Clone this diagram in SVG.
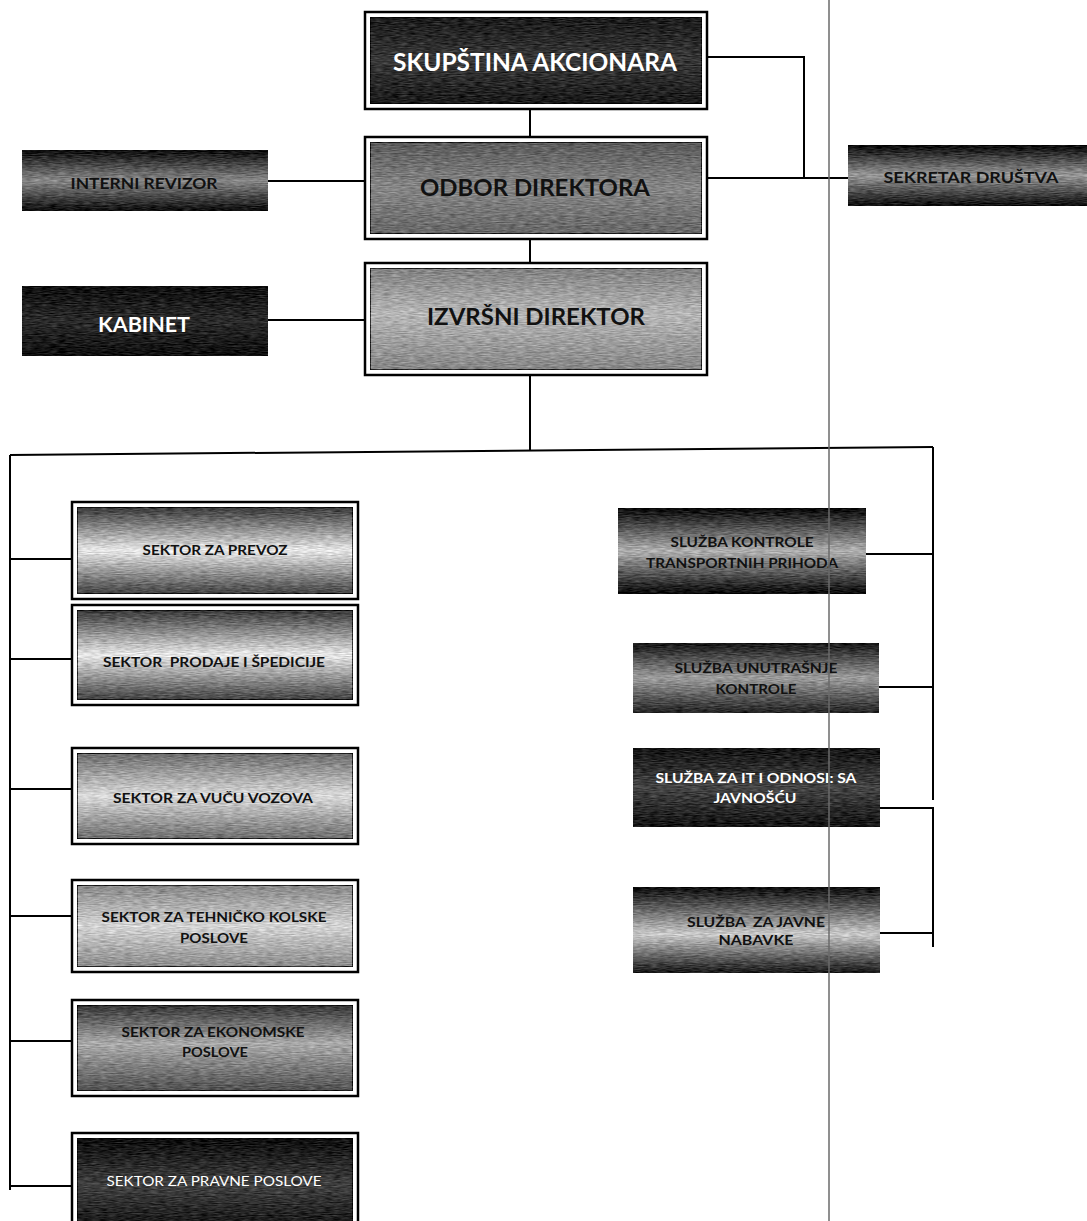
<svg xmlns="http://www.w3.org/2000/svg" width="1087" height="1221" viewBox="0 0 1087 1221">
<style>
.t{font-family:Lato,"Open Sans","Liberation Sans",sans-serif;font-weight:bold;text-anchor:middle}
.d{fill:#111}
.w{fill:#fff}
.r{font-weight:normal}
.ob{fill:#fff;stroke:#000;stroke-width:2.5}
.ib{stroke:#000;stroke-width:1.5}
.c{fill:none;stroke:#000;stroke-width:2}
.g{filter:url(#grain)}
</style>
<defs>
<filter id="grain" x="0" y="0" width="100%" height="100%" color-interpolation-filters="sRGB">
<feTurbulence type="fractalNoise" baseFrequency="0.12 0.9" numOctaves="2" seed="4" result="n"/>
<feColorMatrix in="n" type="matrix" values="1 0 0 0 0  1 0 0 0 0  1 0 0 0 0  0 0 0 0 1" result="nc"/>
<feComposite in="SourceGraphic" in2="nc" operator="arithmetic" k1="0" k2="1" k3="0.36" k4="-0.18" result="m"/>
<feComposite in="m" in2="SourceAlpha" operator="in"/>
</filter>
<linearGradient id="gSkup" x1="0" y1="0" x2="0" y2="1"><stop offset="0" stop-color="#1a1a1a"/><stop offset="0.5" stop-color="#383838"/><stop offset="1" stop-color="#181818"/></linearGradient>
<linearGradient id="gOdbor" x1="0" y1="0" x2="0" y2="1"><stop offset="0" stop-color="#5a5a5a"/><stop offset="0.5" stop-color="#868686"/><stop offset="1" stop-color="#666"/></linearGradient>
<linearGradient id="gIzvr" x1="0" y1="0" x2="0" y2="1"><stop offset="0" stop-color="#808080"/><stop offset="0.45" stop-color="#b6b6b6"/><stop offset="1" stop-color="#858585"/></linearGradient>
<linearGradient id="gInt" x1="0" y1="0" x2="0" y2="1"><stop offset="0" stop-color="#0a0a0a"/><stop offset="0.5" stop-color="#888"/><stop offset="1" stop-color="#0c0c0c"/></linearGradient>
<linearGradient id="gKab" x1="0" y1="0" x2="0" y2="1"><stop offset="0" stop-color="#0e0e0e"/><stop offset="0.5" stop-color="#2a2a2a"/><stop offset="1" stop-color="#0e0e0e"/></linearGradient>
<linearGradient id="gSek" x1="0" y1="0" x2="0" y2="1"><stop offset="0" stop-color="#050505"/><stop offset="0.5" stop-color="#989898"/><stop offset="1" stop-color="#0a0a0a"/></linearGradient>
<linearGradient id="gSA" x1="0" y1="0" x2="0" y2="1"><stop offset="0" stop-color="#363636"/><stop offset="0.5" stop-color="#e8e8e8"/><stop offset="1" stop-color="#404040"/></linearGradient>
<linearGradient id="gVu" x1="0" y1="0" x2="0" y2="1"><stop offset="0" stop-color="#6a6a6a"/><stop offset="0.5" stop-color="#dadada"/><stop offset="1" stop-color="#6c6c6c"/></linearGradient>
<linearGradient id="gTe" x1="0" y1="0" x2="0" y2="1"><stop offset="0" stop-color="#868686"/><stop offset="0.5" stop-color="#d4d4d4"/><stop offset="1" stop-color="#8a8a8a"/></linearGradient>
<linearGradient id="gEk" x1="0" y1="0" x2="0" y2="1"><stop offset="0" stop-color="#343434"/><stop offset="0.45" stop-color="#aaa"/><stop offset="1" stop-color="#505050"/></linearGradient>
<linearGradient id="gPr" x1="0" y1="0" x2="0" y2="1"><stop offset="0" stop-color="#0c0c0c"/><stop offset="0.5" stop-color="#404040"/><stop offset="1" stop-color="#0e0e0e"/></linearGradient>
<linearGradient id="gKo" x1="0" y1="0" x2="0" y2="1"><stop offset="0" stop-color="#050505"/><stop offset="0.5" stop-color="#b0b0b0"/><stop offset="1" stop-color="#050505"/></linearGradient>
<linearGradient id="gUn" x1="0" y1="0" x2="0" y2="1"><stop offset="0" stop-color="#141414"/><stop offset="0.5" stop-color="#9c9c9c"/><stop offset="1" stop-color="#222"/></linearGradient>
<linearGradient id="gIt" x1="0" y1="0" x2="0" y2="1"><stop offset="0" stop-color="#121212"/><stop offset="0.5" stop-color="#444"/><stop offset="1" stop-color="#121212"/></linearGradient>
<linearGradient id="gJa" x1="0" y1="0" x2="0" y2="1"><stop offset="0" stop-color="#0a0a0a"/><stop offset="0.55" stop-color="#cacaca"/><stop offset="1" stop-color="#161616"/></linearGradient>
</defs>
<rect width="1087" height="1221" fill="#fff"/>

<g id="connectors">
<path class="c" d="M530,109 V137"/>
<path class="c" d="M707,57 H804 V178"/>
<path class="c" d="M707,178 H848"/>
<path class="c" d="M268,181 H365"/>
<path class="c" d="M530,239 V263"/>
<path class="c" d="M268,320 H365"/>
<path class="c" d="M530,375 V451"/>
<path class="c" d="M10,455 L933,447"/>
<path class="c" d="M10,455 V1190"/>
<path class="c" d="M10,559 H72 M10,659 H72 M10,789 H72 M10,916 H72 M10,1041 H72 M10,1186 H72"/>
<path class="c" d="M933,447 V800"/>
<path class="c" d="M866,554 H933"/>
<path class="c" d="M863,687 H933"/>
<path class="c" d="M867,808 H933 V947"/>
<path class="c" d="M867,933 H933"/>
</g>

<g id="skupstina">
<rect class="ob" x="365" y="12" width="342" height="97"/>
<rect class="ib g" x="370" y="17" width="332" height="87" fill="url(#gSkup)"/>
<text class="t w" x="535" y="71" font-size="25" textLength="284" lengthAdjust="spacingAndGlyphs">SKUPŠTINA AKCIONARA</text>
</g>
<g id="odbor">
<rect class="ob" x="365" y="137" width="342" height="102"/>
<rect class="ib g" x="370" y="142" width="332" height="92" fill="url(#gOdbor)"/>
<text class="t d" x="535" y="196" font-size="23" textLength="230" lengthAdjust="spacingAndGlyphs">ODBOR DIREKTORA</text>
</g>
<g id="izvrsni">
<rect class="ob" x="365" y="263" width="342" height="112"/>
<rect class="ib g" x="370" y="268" width="332" height="102" fill="url(#gIzvr)"/>
<text class="t d" x="536" y="325" font-size="23" textLength="218" lengthAdjust="spacingAndGlyphs">IZVRŠNI DIREKTOR</text>
</g>
<g id="interni">
<rect class="g" x="22" y="150" width="246" height="61" fill="url(#gInt)"/>
<text class="t d" x="144" y="189" font-size="15.5" textLength="147" lengthAdjust="spacingAndGlyphs">INTERNI REVIZOR</text>
</g>
<g id="kabinet">
<rect class="g" x="22" y="286" width="246" height="70" fill="url(#gKab)"/>
<text class="t w" x="144" y="332" font-size="20" textLength="92" lengthAdjust="spacingAndGlyphs">KABINET</text>
</g>
<g id="sekretar">
<rect class="g" x="848" y="145" width="245" height="61" fill="url(#gSek)"/>
<text class="t d" x="971" y="183" font-size="15.5" textLength="175" lengthAdjust="spacingAndGlyphs">SEKRETAR DRUŠTVA</text>
</g>

<g id="prevoz">
<rect class="ob" x="72" y="502" width="286" height="97"/>
<rect class="ib g" x="77" y="507" width="276" height="87" fill="url(#gSA)"/>
<text class="t d" x="215" y="555" font-size="13" textLength="145" lengthAdjust="spacingAndGlyphs">SEKTOR ZA PREVOZ</text>
</g>
<g id="prodaje">
<rect class="ob" x="72" y="605" width="286" height="100"/>
<rect class="ib g" x="77" y="610" width="276" height="90" fill="url(#gSA)"/>
<text class="t d" x="214" y="667" font-size="13.5" textLength="222" lengthAdjust="spacingAndGlyphs" xml:space="preserve">SEKTOR  PRODAJE I ŠPEDICIJE</text>
</g>
<g id="vucu">
<rect class="ob" x="72" y="748" width="286" height="96"/>
<rect class="ib g" x="77" y="753" width="276" height="86" fill="url(#gVu)"/>
<text class="t d" x="213" y="803" font-size="13.5" textLength="200" lengthAdjust="spacingAndGlyphs">SEKTOR ZA VUČU VOZOVA</text>
</g>
<g id="tehnicko">
<rect class="ob" x="72" y="880" width="286" height="92"/>
<rect class="ib g" x="77" y="885" width="276" height="82" fill="url(#gTe)"/>
<text class="t d" x="214" y="922" font-size="13.5" textLength="225" lengthAdjust="spacingAndGlyphs">SEKTOR ZA TEHNIČKO KOLSKE</text>
<text class="t d" x="214" y="943" font-size="13.5" textLength="68" lengthAdjust="spacingAndGlyphs">POSLOVE</text>
</g>
<g id="ekonomske">
<rect class="ob" x="72" y="1000" width="286" height="96"/>
<rect class="ib g" x="77" y="1005" width="276" height="86" fill="url(#gEk)"/>
<text class="t d" x="213" y="1037" font-size="13.5" textLength="183" lengthAdjust="spacingAndGlyphs">SEKTOR ZA EKONOMSKE</text>
<text class="t d" x="215" y="1057" font-size="13.5" textLength="66" lengthAdjust="spacingAndGlyphs">POSLOVE</text>
</g>
<g id="pravne">
<rect class="ob" x="72" y="1133" width="286" height="100"/>
<rect class="ib g" x="77" y="1138" width="276" height="95" fill="url(#gPr)"/>
<text class="t w r" x="214" y="1186" font-size="13.5" textLength="215" lengthAdjust="spacingAndGlyphs">SEKTOR ZA PRAVNE POSLOVE</text>
</g>

<g id="kontrole">
<rect class="g" x="618" y="508" width="248" height="86" fill="url(#gKo)"/>
<text class="t d" x="742" y="547" font-size="13" textLength="143" lengthAdjust="spacingAndGlyphs">SLUŽBA KONTROLE</text>
<text class="t d" x="742" y="568" font-size="13" textLength="192" lengthAdjust="spacingAndGlyphs">TRANSPORTNIH PRIHODA</text>
</g>
<g id="unutrasnje">
<rect class="g" x="633" y="643" width="246" height="70" fill="url(#gUn)"/>
<text class="t d" x="756" y="673" font-size="13" textLength="163" lengthAdjust="spacingAndGlyphs">SLUŽBA UNUTRAŠNJE</text>
<text class="t d" x="756" y="694" font-size="13" textLength="81" lengthAdjust="spacingAndGlyphs">KONTROLE</text>
</g>
<g id="it">
<rect class="g" x="633" y="748" width="247" height="79" fill="url(#gIt)"/>
<text class="t w" x="756" y="783" font-size="13" textLength="201" lengthAdjust="spacingAndGlyphs">SLUŽBA ZA IT I ODNOSI: SA</text>
<text class="t w" x="755" y="803" font-size="13" textLength="83" lengthAdjust="spacingAndGlyphs">JAVNOŠĆU</text>
</g>
<g id="javne">
<rect class="g" x="633" y="887" width="247" height="86" fill="url(#gJa)"/>
<text class="t d" x="756" y="927" font-size="13" textLength="138" lengthAdjust="spacingAndGlyphs" xml:space="preserve">SLUŽBA  ZA JAVNE</text>
<text class="t d" x="756" y="945" font-size="13" textLength="75" lengthAdjust="spacingAndGlyphs">NABAVKE</text>
</g>

<path d="M829,0 V1221" stroke="#6a6a6a" stroke-width="1.5" fill="none"/>
</svg>
